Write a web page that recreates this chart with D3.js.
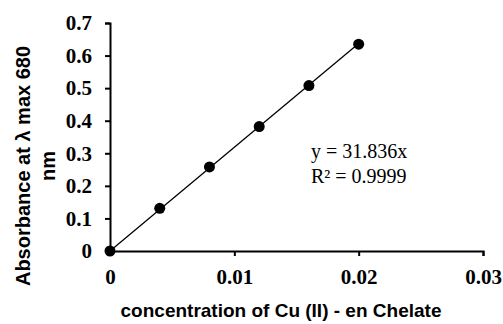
<!DOCTYPE html>
<html>
<head>
<meta charset="utf-8">
<script src="https://cdn.jsdelivr.net/npm/d3@7"></script>
<style>
  body { margin: 0; background: #fff; }
  .tick text { font-family: "Liberation Serif", "Times New Roman", serif; font-weight: bold; font-size: 21px; }
  .axis-title { font-family: "Liberation Sans", Arial, sans-serif; font-weight: bold; font-size: 20px; }
</style>
</head>
<body>
<svg id="chart" width="503" height="324"></svg>
<script>
// Calibration data
const concentration = [0, 0.004, 0.008, 0.012, 0.016, 0.020];
const absorbance = [0, 0.131, 0.258, 0.382, 0.508, 0.635];
const slope = 31.836;
const xTicks = [0, 0.01, 0.02, 0.03];
const yTicks = [0, 0.1, 0.2, 0.3, 0.4, 0.5, 0.6, 0.7];

const svg = d3.select('#chart');
const margin = { left: 110, top: 23 };

const x = d3.scaleLinear().domain([0, 0.03]).range([margin.left, 483]);
const y = d3.scaleLinear().domain([0, 0.7]).range([251, margin.top]);

// Axes
svg.append('g')
    .attr('transform', `translate(0,${y(0)})`)
    .call(d3.axisBottom(x).tickValues(xTicks).tickSize(5).tickPadding(13)
        .tickFormat(d => d === 0 ? '0' : d3.format('.2f')(d)))
    .call(g => g.selectAll('line, path').attr('stroke', '#000').attr('stroke-width', 2));

svg.append('g')
    .attr('transform', `translate(${x(0)},0)`)
    .call(d3.axisLeft(y).tickValues(yTicks).tickSize(5).tickPadding(13)
        .tickFormat(d => d === 0 ? '0' : d3.format('.1f')(d)))
    .call(g => g.selectAll('line, path').attr('stroke', '#000').attr('stroke-width', 2));

// Linear trendline through origin
svg.append('line')
    .attr('x1', x(0)).attr('y1', y(0))
    .attr('x2', x(0.02)).attr('y2', y(slope * 0.02))
    .attr('stroke', '#000').attr('stroke-width', 1.3);

// Points
svg.selectAll('circle.pt')
    .data(concentration)
    .enter()
    .append('circle')
    .attr('class', 'pt')
    .attr('cx', d => x(d))
    .attr('cy', (d, i) => y(absorbance[i]))
    .attr('r', 5.5)
    .attr('fill', '#000');

// Equation labels
const eq = svg.append('text')
    .attr('font-family', '"Liberation Serif", "Times New Roman", serif')
    .attr('font-size', 20);
eq.append('tspan').attr('x', 311).attr('y', 158).text('y = 31.836x');
eq.append('tspan').attr('x', 311).attr('y', 183).text('R² = 0.9999');

// Axis titles
svg.append('text')
    .attr('class', 'axis-title')
    .attr('x', 281).attr('y', 317)
    .attr('text-anchor', 'middle')
    .style('font-size', '19px')
    .text('concentration of Cu (II) - en Chelate');

const yt = svg.append('text')
    .attr('class', 'axis-title')
    .attr('text-anchor', 'middle')
    .attr('transform', 'translate(30,166) rotate(-90)');
yt.append('tspan').attr('x', 0).attr('y', 0).text('Absorbance at λ max 680');
yt.append('tspan').attr('x', 0).attr('y', 25).text('nm');
</script>
</body>
</html>
